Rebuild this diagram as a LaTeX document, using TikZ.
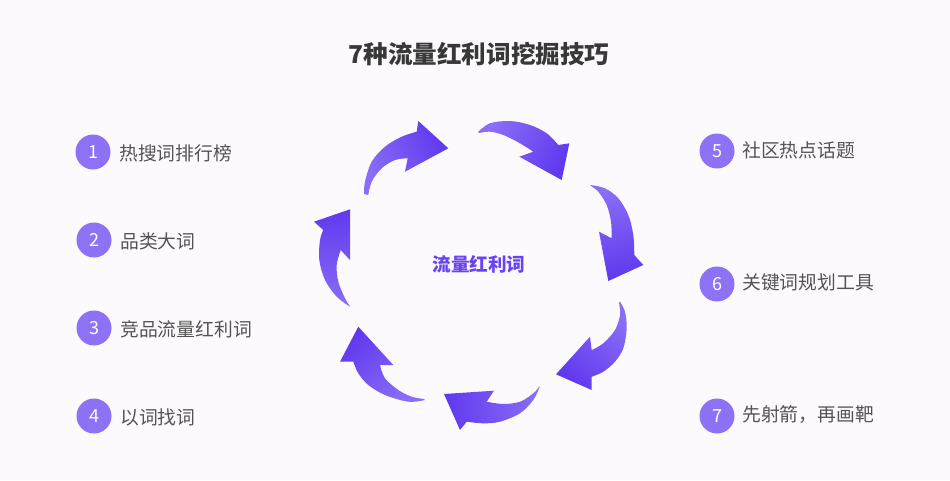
\documentclass[tikz,border=0pt]{standalone}
\usepackage{fontspec}
\setmainfont{Noto Sans CJK SC}
\begin{document}
\begin{tikzpicture}[x=1pt,y=-1pt,
  numc/.style={circle,fill=circfill,minimum size=35pt,inner sep=0pt,text=white,font=\fontsize{18}{18}\selectfont},
  lbl/.style={anchor=west,inner sep=0pt,text=labelgray,font=\fontsize{18.8}{20}\selectfont},
  arr/.style={top color=arrdark,bottom color=arrlight},
  smoothpath/.style={smooth,tension=0.55}]
\definecolor{bgc}{HTML}{FDFAFD}
\definecolor{circfill}{HTML}{8E72F5}
\definecolor{labelgray}{HTML}{545454}
\definecolor{titlegray}{HTML}{383838}
\definecolor{arrdark}{HTML}{6039EE}
\definecolor{arrlight}{HTML}{8A6EF6}
\definecolor{centerpurple}{HTML}{6744F0}
\fill[bgc] (0,0) rectangle (950,480);
\useasboundingbox (0,0) rectangle (950,480);

% title
\node[inner sep=0pt,text=titlegray,font=\fontsize{24.6}{26}\selectfont\bfseries] (title) at (479,54) {7种流量红利词挖掘技巧};

% arrows
\shade[arr,shading angle=-61] plot[smoothpath] coordinates {(364,194) (365,181.7) (371.7,161.7) (385,146.7) (401.7,136.7) (416.7,131.7)}
  -- (418.3,121) -- (448.3,148.3) -- (405,171.7) -- (407.7,158.3)
  -- plot[smoothpath] coordinates {(407.7,158.3) (395,160) (381.7,168.3) (371.7,181.7) (368.3,195)} -- cycle;
\shade[arr,shading angle=-120] plot[smoothpath] coordinates {(478.3,131.7) (490,123.3) (510,121) (530,125) (546.7,133.3) (558.3,145)}
  -- (569.3,143.3) -- (561.7,180) -- (519.3,156.7) -- (533.3,151.7)
  -- plot[smoothpath] coordinates {(533.3,151.7) (520,143.3) (503.3,135) (490,131.7) (479,133)} -- cycle;
\shade[arr,shading angle=-169] plot[smoothpath] coordinates {(590,185) (605,188.3) (618.3,198.3) (628.3,215) (633.3,235) (634.3,255)}
  -- (643.3,265) -- (608.3,281) -- (599,231.7) -- (611.7,238.3)
  -- plot[smoothpath] coordinates {(611.7,238.3) (611,221.7) (606.7,205) (598.3,191.7) (591,186)} -- cycle;
\shade[arr,shading angle=138] plot[smoothpath] coordinates {(620,301.7) (625,311.7) (626.7,328.3) (623.3,348.3) (615,361.7) (603.3,371.7) (591.7,376.7)}
  -- (591.7,390) -- (556,374.3) -- (590,336.7) -- (591.7,350)
  -- plot[smoothpath] coordinates {(591.7,350) (603.3,343.3) (615,330) (620,315) (619,302.5)} -- cycle;
\shade[arr,shading angle=95] plot[smoothpath] coordinates {(540,386) (533.3,400) (520,413.3) (500,421.7) (483.3,423.3) (466.7,421.7)}
  -- (460,430) -- (444,394) -- (494,390.7) -- (486.7,401.7)
  -- plot[smoothpath] coordinates {(486.7,401.7) (503.3,404) (520,401.7) (533.3,393.3) (539,387)} -- cycle;
\shade[arr,shading angle=42] plot[smoothpath] coordinates {(425,400) (408.3,401.7) (385,395) (368.3,385) (358.3,373.3) (353.3,361.7)}
  -- (340,361.7) -- (358.3,326.7) -- (393.3,365) -- (380,365)
  -- plot[smoothpath] coordinates {(380,365) (385,378.3) (398.3,390) (411.7,396.7) (424,399)} -- cycle;
\shade[arr,shading angle=0] plot[smoothpath] coordinates {(350,306.7) (336.7,296.7) (325,280) (319.3,260) (320,240) (323.3,230)}
  -- (314,221.7) -- (350,209.3) -- (350,260) -- (340.7,250)
  -- plot[smoothpath] coordinates {(340.7,250) (336.7,265) (338.3,281.7) (345,298.3) (349.5,305.5)} -- cycle;

% center text
\node[inner sep=0pt,text=centerpurple,font=\fontsize{18.6}{20}\selectfont\bfseries] (center) at (479,264) {流量红利词};

% left items
\node[numc] (n1) at (93,152) {1};
\node[lbl] (l1) at (119,153.5) {热搜词排行榜};
\node[numc] (n2) at (94,240) {2};
\node[lbl] (l2) at (120,241) {品类大词};
\node[numc] (n3) at (94,328) {3};
\node[lbl] (l3) at (120,329) {竞品流量红利词};
\node[numc] (n4) at (94,416) {4};
\node[lbl] (l4) at (120,417) {以词找词};

% right items
\node[numc] (n5) at (717,151) {5};
\node[lbl] (l5) at (742,150) {社区热点话题};
\node[numc] (n6) at (717,284) {6};
\node[lbl] (l6) at (742,282) {关键词规划工具};
\node[numc] (n7) at (717,416) {7};
\node[lbl] (l7) at (742,415) {先射箭，再画靶};
\end{tikzpicture}
\end{document}
